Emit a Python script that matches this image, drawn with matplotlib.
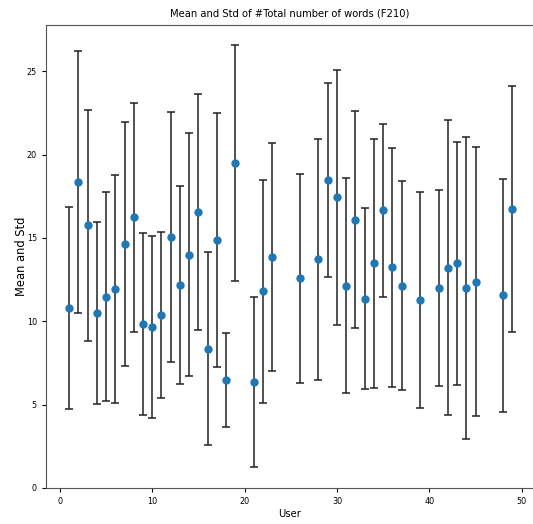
"""
Mean and Std errorbar chart per user
"""
import matplotlib
matplotlib.use('Agg')
import matplotlib.pyplot as plt

plt.rcParams['font.family'] = ['DejaVu Sans']
plt.rcParams['font.stretch'] = 'condensed'

users = [1, 2, 3, 4, 5, 6, 7, 8, 9, 10, 11, 12, 13, 14, 15, 16, 17, 18, 19,
         21, 22, 23, 26, 28, 29, 30, 31, 32, 33, 34, 35, 36, 37, 39,
         41, 42, 43, 44, 45, 48, 49]
means = [10.78, 18.35, 15.77, 10.52, 11.48, 11.92, 14.63, 16.23, 9.82, 9.64,
         10.38, 15.07, 12.18, 13.99, 16.55, 8.36, 14.89, 6.49, 19.50,
         6.35, 11.80, 13.87, 12.57, 13.73, 18.48, 17.45, 12.12, 16.09, 11.36,
         13.47, 16.67, 13.23, 12.14, 11.28,
         12.00, 13.21, 13.47, 12.00, 12.38, 11.56, 16.73]
stds = [6.07, 7.88, 6.93, 5.46, 6.27, 6.83, 7.33, 6.88, 5.45, 5.47,
        4.97, 7.50, 5.96, 7.28, 7.08, 5.77, 7.63, 2.82, 7.08,
        5.10, 6.69, 6.85, 6.27, 7.23, 5.80, 7.65, 6.45, 6.52, 5.42,
        7.45, 5.19, 7.15, 6.27, 6.47,
        5.87, 8.85, 7.30, 9.07, 8.05, 7.00, 7.40]

fig = plt.figure(figsize=(5.33, 5.24), dpi=100)
ax = fig.add_axes([0.0863, 0.068, 0.915, 0.885])

ax.errorbar(users, means, yerr=stds, fmt='o', color='#1f77b4', ecolor='#222222',
            elinewidth=1.1, capsize=3, capthick=1.1, markersize=5)

ax.set_xlim(-1.5, 51.3)
ax.set_ylim(-0.03, 27.8)
ax.set_xticks([0, 10, 20, 30, 40, 50])
ax.set_yticks([0, 5, 10, 15, 20, 25])
ax.tick_params(labelsize=6.5, length=3)

ax.set_title('Mean and Std of #Total number of words (F210)', fontsize=8)
ax.set_xlabel('User', fontsize=8, labelpad=2)
ax.set_ylabel('Mean and Std', fontsize=8.3, fontstretch='normal', labelpad=-1)

for s in ax.spines.values():
    s.set_color('#555555')

fig.savefig('out.png', dpi=100, facecolor='white')
